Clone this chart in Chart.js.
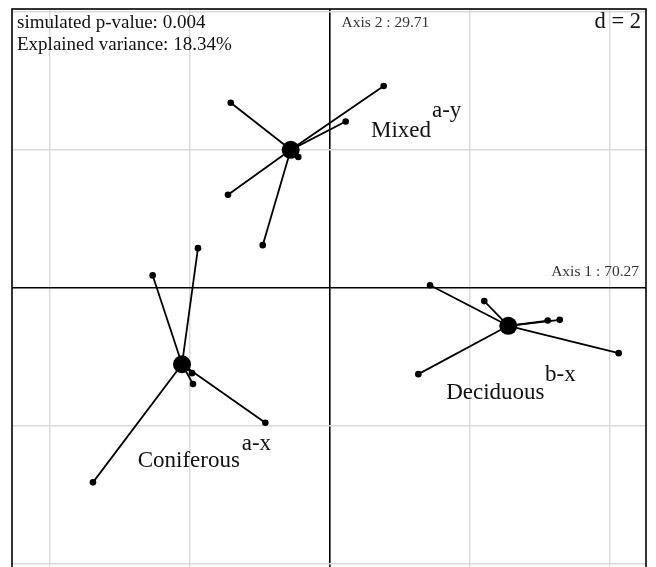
<!DOCTYPE html>
<html>
<head>
<meta charset="utf-8">
<script src="https://cdn.jsdelivr.net/npm/chart.js@4/dist/chart.umd.min.js"></script>
<style>
html,body{margin:0;padding:0;background:#fff;overflow:hidden;}
#wrap{position:relative;width:656px;height:580px;}
</style>
</head>
<body>
<div id="wrap"><canvas id="c"></canvas></div>
<script>
// ---- data (chart units) ----
const groups = ["Coniferous", "Deciduous", "Mixed"];
const groupLetters = ["a-x", "b-x", "a-y"];
const centroidX = [-2.107, 2.554, -0.554];
const centroidY = [-1.107, -0.550, 1.997];
const coniferousX = [-2.526, -1.879, -1.964, -1.950, -0.917, -3.379];
const coniferousY = [0.179, 0.574, -1.236, -1.393, -1.954, -2.817];
const deciduousX = [1.436, 2.211, 3.117, 3.289, 4.131, 1.269];
const deciduousY = [0.036, -0.193, -0.474, -0.464, -0.946, -1.250];
const mixedX = [-1.411, 0.774, 0.231, -0.446, -1.450, -0.954];
const mixedY = [2.679, 2.921, 2.407, 1.893, 1.346, 0.617];
// label anchors (chart units): group name centre / baseline, letters left / baseline
const labelX = [-2.010, 2.369, 1.021];
const labelY = [-2.597, -1.607, 2.179];
const letterX = [-1.254, 3.079, 1.464];
const letterY = [-2.346, -1.346, 2.479];
const gridTicks = [-4, -2, 0, 2, 4];
const pValueText = "simulated p-value: 0.004";
const varianceText = "Explained variance: 18.34%";
const axis1Text = "Axis 1 : 70.27";
const axis2Text = "Axis 2 : 29.71";
const dText = "d = 2";

const memberX = [coniferousX, deciduousX, mixedX];
const memberY = [coniferousY, deciduousY, mixedY];

function starData(g) {
  const out = [];
  for (let i = 0; i < memberX[g].length; i++) {
    out.push({x: centroidX[g], y: centroidY[g]});
    out.push({x: memberX[g][i], y: memberY[g][i]});
  }
  return out;
}

const datasets = [];
for (let g = 0; g < groups.length; g++) {
  datasets.push({
    type: 'line',
    label: groups[g],
    data: starData(g),
    showLine: true,
    borderColor: '#000',
    borderWidth: 1.8,
    backgroundColor: '#000',
    pointBackgroundColor: '#000',
    pointBorderWidth: 0,
    pointRadius: ctx => (ctx.dataIndex % 2 === 0 ? 0 : 3.3),
    segment: {
      borderColor: ctx => (ctx.p0DataIndex % 2 === 0 ? '#000' : 'rgba(0,0,0,0)')
    },
    tension: 0
  });
}
datasets.push({
  type: 'scatter',
  label: 'centroids',
  data: centroidX.map((x, i) => ({x: x, y: centroidY[i]})),
  pointRadius: 9,
  pointBackgroundColor: '#000',
  pointBorderWidth: 0
});

const serif = "'Liberation Serif', 'DejaVu Serif', serif";

const textPlugin = {
  id: 'texts',
  afterDatasetsDraw(chart) {
    const ctx = chart.ctx;
    const a = chart.chartArea;
    const xs = chart.scales.x, ys = chart.scales.y;
    ctx.save();
    ctx.fillStyle = '#111';
    ctx.textBaseline = 'alphabetic';
    ctx.font = "23px " + serif;
    for (let g = 0; g < groups.length; g++) {
      ctx.textAlign = 'center';
      ctx.fillText(groups[g], xs.getPixelForValue(labelX[g]), ys.getPixelForValue(labelY[g]));
      ctx.textAlign = 'left';
      ctx.fillText(groupLetters[g], xs.getPixelForValue(letterX[g]), ys.getPixelForValue(letterY[g]));
    }
    // frame
    ctx.strokeStyle = '#000';
    ctx.lineWidth = 1.6;
    ctx.strokeRect(a.left, a.top, a.right - a.left, a.bottom - a.top);
    // info texts
    ctx.textAlign = 'left';
    ctx.font = "19px " + serif;
    ctx.fillStyle = '#111';
    ctx.fillText(pValueText, a.left + 5, a.top + 19);
    ctx.fillText(varianceText, a.left + 5, a.top + 41);
    ctx.font = "15.5px " + serif;
    ctx.fillStyle = '#333';
    ctx.fillText(axis2Text, xs.getPixelForValue(0) + 12, a.top + 18);
    ctx.textAlign = 'right';
    ctx.fillText(axis1Text, a.right - 7, ys.getPixelForValue(0) - 12);
    ctx.font = "22.5px " + serif;
    ctx.fillStyle = '#111';
    ctx.fillText(dText, a.right - 5, a.top + 19);
    ctx.restore();
  }
};

const gridColor = ctx => (ctx.tick && ctx.tick.value === 0 ? '#000' : '#d9d9d9');
const gridWidth = ctx => (ctx.tick && ctx.tick.value === 0 ? 1.6 : 1.4);

new Chart(document.getElementById('c'), {
  data: {datasets: datasets},
  options: {
    responsive: true,
    maintainAspectRatio: false,
    animation: false,
    layout: {padding: {left: 12, right: 10, top: 1, bottom: 5.5}},
    plugins: {legend: {display: false}, tooltip: {enabled: false}},
    scales: {
      x: {
        type: 'linear',
        min: -4.5357, max: 4.5214,
        afterBuildTicks: s => { s.ticks = gridTicks.map(v => ({value: v})); },
        ticks: {display: false},
        grid: {color: gridColor, lineWidth: gridWidth, drawTicks: false},
        border: {display: false}
      },
      y: {
        type: 'linear',
        min: -4.1, max: 4.0357,
        afterBuildTicks: s => { s.ticks = gridTicks.map(v => ({value: v})); },
        ticks: {display: false},
        grid: {color: gridColor, lineWidth: gridWidth, drawTicks: false},
        border: {display: false}
      }
    }
  },
  plugins: [textPlugin]
});
</script>
</body>
</html>
